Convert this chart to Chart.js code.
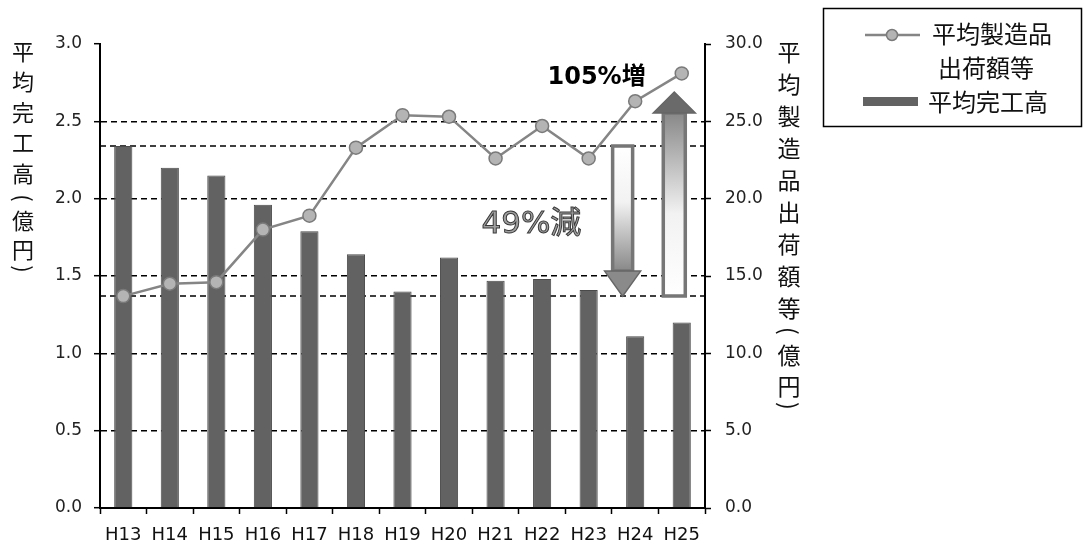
<!DOCTYPE html>
<html>
<head>
<meta charset="utf-8">
<script src="https://cdn.jsdelivr.net/npm/chart.js@4.4.1/dist/chart.umd.min.js"></script>
<style>
  html, body { margin: 0; padding: 0; background: #fff; }
  #wrap { position: relative; width: 1086px; height: 551px; }
</style>
</head>
<body>
<div id="wrap"><canvas id="c" width="1086" height="551"></canvas></div>
<script>
// 年度
const categories = ['H13', 'H14', 'H15', 'H16', 'H17', 'H18', 'H19', 'H20', 'H21', 'H22', 'H23', 'H24', 'H25'];
// 平均完工高（億円） — left axis
const kankodaka = [2.34, 2.20, 2.15, 1.96, 1.79, 1.64, 1.40, 1.62, 1.47, 1.48, 1.41, 1.11, 1.20];
// 平均製造品出荷額等（億円） — right axis
const shukka = [13.7, 14.5, 14.6, 18.0, 18.9, 23.3, 25.4, 25.3, 22.6, 24.7, 22.6, 26.3, 28.1];
// axis tick labels
const leftTicks = ['0.0', '0.5', '1.0', '1.5', '2.0', '2.5', '3.0'];
const rightTicks = ['0.0', '5.0', '10.0', '15.0', '20.0', '25.0', '30.0'];
// titles and annotations
const leftTitle = ['平', '均', '完', '工', '高', '(', '億', '円', ')'];
const rightTitle = ['平', '均', '製', '造', '品', '出', '荷', '額', '等', '(', '億', '円', ')'];
const lineLabel = ['平均製造品', '出荷額等'];
const barLabel = '平均完工高';
const upText = '105%増';
const downText = '49%減';

const TICK_FONT = "'DejaVu Sans', sans-serif";
const CJK_FONT = "'Noto Sans CJK JP', 'Noto Sans', sans-serif";

// one column of stacked characters; brackets are turned a quarter for vertical writing
function drawVerticalText(ctx, chars, x, ys) {
  chars.forEach((ch, i) => {
    if (ch === '(' || ch === ')') {
      ctx.save();
      ctx.translate(x, ys[i]);
      ctx.rotate(Math.PI / 2);
      ctx.fillText(ch, 0, 0);
      ctx.restore();
    } else {
      ctx.fillText(ch, x, ys[i]);
    }
  });
}

// dashed reference lines at the H13 values, the two arrows and their labels
const annotations = {
  id: 'annotations',
  beforeDatasetsDraw(chart) {
    const { ctx, chartArea: a, scales: { y, y1 } } = chart;
    ctx.save();
    ctx.strokeStyle = '#000';
    ctx.lineWidth = 1.5;
    ctx.setLineDash([6, 4]);
    [y.getPixelForValue(kankodaka[0]), y1.getPixelForValue(shukka[0])].forEach(py => {
      ctx.beginPath();
      ctx.moveTo(a.left, Math.round(py));
      ctx.lineTo(a.right, Math.round(py));
      ctx.stroke();
    });
    ctx.restore();
  },
  afterDatasetsDraw(chart) {
    const { ctx, scales: { x, y, y1 } } = chart;

    // down arrow: 平均完工高 H13 -> H25
    const dx = x.getPixelForValue(10.73);
    const dTop = y.getPixelForValue(kankodaka[0]);
    const dTip = y1.getPixelForValue(shukka[0]);
    drawArrow(ctx, dx, dTop, dTip, 10, 18, 25, false);

    // up arrow: 平均製造品出荷額等 H13 -> H25
    const ux = x.getPixelForValue(11.84);
    const uBottom = y1.getPixelForValue(shukka[0]);
    const uTip = y1.getPixelForValue(26.9);
    drawArrow(ctx, ux, uBottom, uTip, 11, 21, 21, true);

    ctx.save();
    ctx.textAlign = 'center';
    ctx.textBaseline = 'middle';
    ctx.font = "bold 24px 'DejaVu Sans', " + CJK_FONT;
    ctx.fillStyle = '#000';
    ctx.fillText(upText, x.getPixelForValue(10.17), y.getPixelForValue(2.78));

    ctx.font = "31px 'DejaVu Sans', " + CJK_FONT;
    ctx.fillStyle = '#a0a0a0';
    ctx.strokeStyle = '#3a3a3a';
    ctx.lineWidth = 1;
    const tx = x.getPixelForValue(8.77), ty = y.getPixelForValue(1.83);
    ctx.fillText(downText, tx, ty);
    ctx.strokeText(downText, tx, ty);
    ctx.restore();
  },
  afterDraw(chart) {
    const { ctx, chartArea: a } = chart;
    ctx.save();
    ctx.fillStyle = '#111';
    ctx.textAlign = 'center';
    ctx.textBaseline = 'middle';

    // vertical axis titles
    ctx.font = '22px ' + CJK_FONT;
    const leftY = [52, 82, 113, 143, 174, 198, 221, 250, 269];
    drawVerticalText(ctx, leftTitle, 23, leftY);
    ctx.font = '23px ' + CJK_FONT;
    const rightY = [52, 84, 116, 148, 180, 212, 244, 276, 308, 331, 355, 386, 406];
    drawVerticalText(ctx, rightTitle, a.right + 84, rightY);

    // legend box
    ctx.strokeStyle = '#000';
    ctx.lineWidth = 1.5;
    ctx.strokeRect(823.5, 8.5, 258, 118);

    // line sample
    const line = chart.data.datasets[1];
    ctx.strokeStyle = line.borderColor;
    ctx.lineWidth = line.borderWidth;
    ctx.beginPath();
    ctx.moveTo(865, 35);
    ctx.lineTo(920, 35);
    ctx.stroke();
    ctx.beginPath();
    ctx.arc(892, 35, 5.5, 0, Math.PI * 2);
    ctx.fillStyle = line.pointBackgroundColor;
    ctx.fill();
    ctx.strokeStyle = line.pointBorderColor;
    ctx.lineWidth = line.pointBorderWidth;
    ctx.stroke();

    // bar sample
    const bar = chart.data.datasets[0];
    ctx.fillStyle = bar.backgroundColor;
    ctx.fillRect(863, 97, 55, 9);

    ctx.fillStyle = '#111';
    ctx.textAlign = 'left';
    ctx.font = '24px ' + CJK_FONT;
    ctx.fillText(lineLabel[0], 932, 34);
    ctx.fillText(lineLabel[1], 938, 68);
    ctx.fillText(barLabel, 928, 102);
    ctx.restore();
  }
};

function drawArrow(ctx, cx, from, tip, shaftHalf, headHalf, headLen, up) {
  const dir = up ? -1 : 1;
  const headBase = tip - dir * headLen;
  ctx.save();
  // shaft
  const g = ctx.createLinearGradient(0, from, 0, headBase);
  g.addColorStop(0, '#ffffff');
  g.addColorStop(0.45, '#f2f2f2');
  g.addColorStop(1, '#888888');
  ctx.fillStyle = g;
  ctx.strokeStyle = '#767676';
  ctx.lineWidth = 3.5;
  ctx.beginPath();
  ctx.rect(cx - shaftHalf, Math.min(from, headBase), shaftHalf * 2, Math.abs(headBase - from));
  ctx.fill();
  ctx.stroke();
  // head
  ctx.beginPath();
  ctx.moveTo(cx - headHalf, headBase);
  ctx.lineTo(cx + headHalf, headBase);
  ctx.lineTo(cx, tip);
  ctx.closePath();
  ctx.fillStyle = up ? '#6a6a6a' : '#8a8a8a';
  ctx.fill();
  ctx.strokeStyle = '#666';
  ctx.lineWidth = 1.5;
  ctx.stroke();
  ctx.restore();
}

new Chart(document.getElementById('c'), {
  data: {
    labels: categories,
    datasets: [
      {
        type: 'bar',
        label: barLabel,
        data: kankodaka,
        yAxisID: 'y',
        backgroundColor: '#626262',
        borderColor: '#4a4a4a',
        borderWidth: 1,
        barPercentage: 0.78,
        categoryPercentage: 0.5,
        order: 2
      },
      {
        type: 'line',
        label: lineLabel.join(''),
        data: shukka,
        yAxisID: 'y1',
        borderColor: '#858585',
        borderWidth: 2.5,
        pointRadius: 6.5,
        pointBackgroundColor: '#b4b4b4',
        pointBorderColor: '#7a7a7a',
        pointBorderWidth: 1.5,
        tension: 0,
        order: 1
      }
    ]
  },
  options: {
    responsive: false,
    devicePixelRatio: 1,
    animation: false,
    layout: { padding: { top: 44, right: 0, bottom: 0, left: 0 } },
    plugins: { legend: { display: false }, tooltip: { enabled: false } },
    scales: {
      x: {
        offset: true,
        grid: { offset: true, drawOnChartArea: false, drawTicks: true, tickLength: 6, color: '#000', tickWidth: 1.5 },
        border: { color: '#000', width: 2 },
        ticks: { color: '#111', font: { family: TICK_FONT, size: 18 }, padding: 11, maxRotation: 0, autoSkip: false },
        afterFit(s) { s.height = 43; }
      },
      y: {
        position: 'left',
        min: 0, max: 3,
        ticks: {
          stepSize: 0.5, color: '#222', padding: 12,
          font: { family: TICK_FONT, size: 17 },
          callback: (v) => leftTicks[Math.round(v / 0.5)]
        },
        grid: {
          color: (c) => (c.tick && (c.tick.value <= 0 || c.tick.value >= 3)) ? 'rgba(0,0,0,0)' : '#000',
          lineWidth: 1.4, tickColor: '#000', tickLength: 6, tickWidth: 1.5
        },
        border: { color: '#000', width: 2, dash: [6, 4] },
        afterFit(s) { s.width = 100; }
      },
      y1: {
        position: 'right',
        min: 0, max: 30,
        ticks: {
          stepSize: 5, color: '#222', padding: 14,
          font: { family: TICK_FONT, size: 17 },
          callback: (v) => rightTicks[Math.round(v / 5)]
        },
        grid: { drawOnChartArea: false, color: '#000', tickLength: 6, tickWidth: 1.5 },
        border: { color: '#000', width: 2 },
        afterFit(s) { s.width = 381; }
      }
    }
  },
  plugins: [annotations]
});
</script>
</body>
</html>
